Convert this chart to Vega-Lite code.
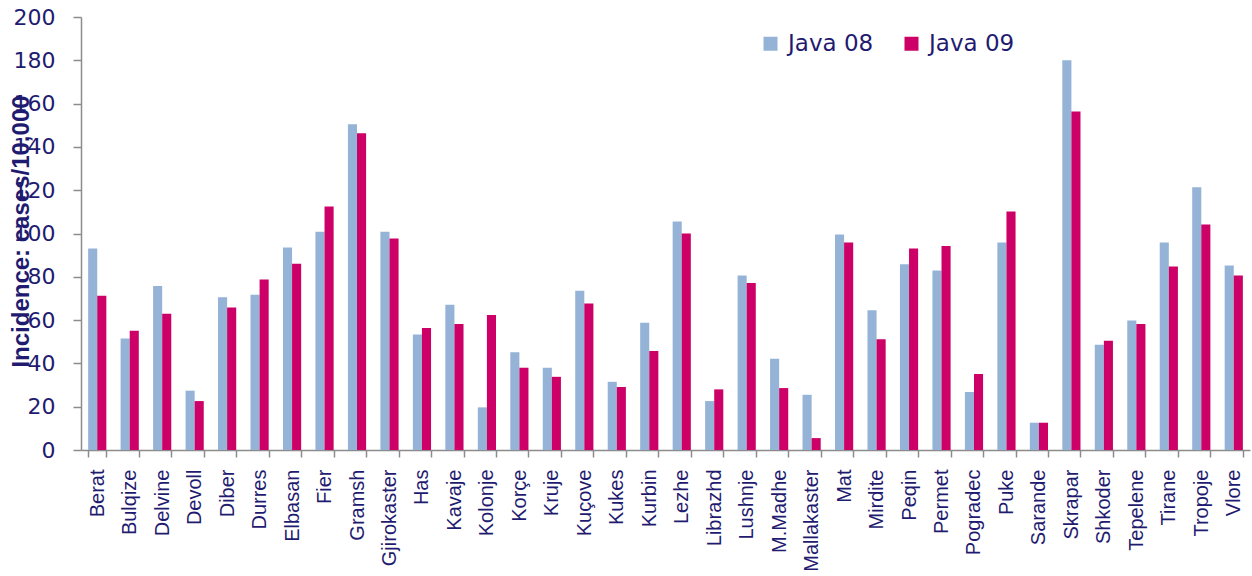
{
  "$schema": "https://vega.github.io/schema/vega-lite/v6.json",
  "width": 1169,
  "height": 433,
  "autosize": {"type": "none"},
  "padding": {"left": 81, "top": 17, "right": 2, "bottom": 126},
  "background": "white",
  "config": {
    "view": {"stroke": null},
    "font": "Liberation Sans"
  },
  "datasets": {
    "rates": [
      {"district": "Berat", "series": "Java 08", "value": 93.1},
      {"district": "Berat", "series": "Java 09", "value": 71.2},
      {"district": "Bulqize", "series": "Java 08", "value": 51.5},
      {"district": "Bulqize", "series": "Java 09", "value": 55.1},
      {"district": "Delvine", "series": "Java 08", "value": 75.8},
      {"district": "Delvine", "series": "Java 09", "value": 62.9},
      {"district": "Devoll", "series": "Java 08", "value": 27.4},
      {"district": "Devoll", "series": "Java 09", "value": 22.6},
      {"district": "Diber", "series": "Java 08", "value": 70.6},
      {"district": "Diber", "series": "Java 09", "value": 65.8},
      {"district": "Durres", "series": "Java 08", "value": 71.7},
      {"district": "Durres", "series": "Java 09", "value": 78.8},
      {"district": "Elbasan", "series": "Java 08", "value": 93.5},
      {"district": "Elbasan", "series": "Java 09", "value": 86.0},
      {"district": "Fier", "series": "Java 08", "value": 100.8},
      {"district": "Fier", "series": "Java 09", "value": 112.5},
      {"district": "Gramsh", "series": "Java 08", "value": 150.5},
      {"district": "Gramsh", "series": "Java 09", "value": 146.3},
      {"district": "Gjirokaster", "series": "Java 08", "value": 100.8},
      {"district": "Gjirokaster", "series": "Java 09", "value": 97.7},
      {"district": "Has", "series": "Java 08", "value": 53.4},
      {"district": "Has", "series": "Java 09", "value": 56.3},
      {"district": "Kavaje", "series": "Java 08", "value": 67.1},
      {"district": "Kavaje", "series": "Java 09", "value": 58.2},
      {"district": "Kolonje", "series": "Java 08", "value": 19.7},
      {"district": "Kolonje", "series": "Java 09", "value": 62.3},
      {"district": "Korçe", "series": "Java 08", "value": 45.2},
      {"district": "Korçe", "series": "Java 09", "value": 38.0},
      {"district": "Kruje", "series": "Java 08", "value": 38.0},
      {"district": "Kruje", "series": "Java 09", "value": 33.8},
      {"district": "Kuçove", "series": "Java 08", "value": 73.5},
      {"district": "Kuçove", "series": "Java 09", "value": 67.7},
      {"district": "Kukes", "series": "Java 08", "value": 31.5},
      {"district": "Kukes", "series": "Java 09", "value": 29.1},
      {"district": "Kurbin", "series": "Java 08", "value": 58.8},
      {"district": "Kurbin", "series": "Java 09", "value": 45.7},
      {"district": "Lezhe", "series": "Java 08", "value": 105.5},
      {"district": "Lezhe", "series": "Java 09", "value": 100.0},
      {"district": "Librazhd", "series": "Java 08", "value": 22.6},
      {"district": "Librazhd", "series": "Java 09", "value": 28.0},
      {"district": "Lushnje", "series": "Java 08", "value": 80.6},
      {"district": "Lushnje", "series": "Java 09", "value": 77.1},
      {"district": "M.Madhe", "series": "Java 08", "value": 42.2},
      {"district": "M.Madhe", "series": "Java 09", "value": 28.6},
      {"district": "Mallakaster", "series": "Java 08", "value": 25.5},
      {"district": "Mallakaster", "series": "Java 09", "value": 5.5},
      {"district": "Mat", "series": "Java 08", "value": 99.5},
      {"district": "Mat", "series": "Java 09", "value": 95.8},
      {"district": "Mirdite", "series": "Java 08", "value": 64.6},
      {"district": "Mirdite", "series": "Java 09", "value": 51.1},
      {"district": "Peqin", "series": "Java 08", "value": 85.8},
      {"district": "Peqin", "series": "Java 09", "value": 93.1},
      {"district": "Permet", "series": "Java 08", "value": 82.9},
      {"district": "Permet", "series": "Java 09", "value": 94.2},
      {"district": "Pogradec", "series": "Java 08", "value": 26.8},
      {"district": "Pogradec", "series": "Java 09", "value": 35.1},
      {"district": "Puke", "series": "Java 08", "value": 95.8},
      {"district": "Puke", "series": "Java 09", "value": 110.2},
      {"district": "Sarande", "series": "Java 08", "value": 12.6},
      {"district": "Sarande", "series": "Java 09", "value": 12.6},
      {"district": "Skrapar", "series": "Java 08", "value": 180.0},
      {"district": "Skrapar", "series": "Java 09", "value": 156.3},
      {"district": "Shkoder", "series": "Java 08", "value": 48.6},
      {"district": "Shkoder", "series": "Java 09", "value": 50.5},
      {"district": "Tepelene", "series": "Java 08", "value": 59.8},
      {"district": "Tepelene", "series": "Java 09", "value": 58.2},
      {"district": "Tirane", "series": "Java 08", "value": 95.8},
      {"district": "Tirane", "series": "Java 09", "value": 84.8},
      {"district": "Tropoje", "series": "Java 08", "value": 121.4},
      {"district": "Tropoje", "series": "Java 09", "value": 104.2},
      {"district": "Vlore", "series": "Java 08", "value": 85.2},
      {"district": "Vlore", "series": "Java 09", "value": 80.6}
    ]
  },
  "data": {"name": "rates"},
  "mark": {"type": "bar"},
  "encoding": {
    "x": {
      "field": "district",
      "type": "nominal",
      "sort": null,
      "scale": {"paddingInner": 0.44, "paddingOuter": 0.22},
      "axis": {
        "title": null,
        "labelAngle": 270,
        "labelAlign": "right",
        "labelBaseline": "middle",
        "labelFont": "Liberation Sans",
        "labelFontSize": 20,
        "labelColor": "#1f1b70",
        "labelPadding": 12,
        "labelOverlap": false,
        "labelLimit": 0,
        "tickBand": "extent",
        "tickSize": 7,
        "tickColor": "#8c8c8c",
        "domainColor": "#8c8c8c",
        "domainWidth": 1.5,
        "tickWidth": 1.5
      }
    },
    "xOffset": {
      "field": "series",
      "type": "nominal",
      "scale": {"paddingInner": 0, "paddingOuter": 0}
    },
    "y": {
      "field": "value",
      "type": "quantitative",
      "scale": {"domain": [0, 200], "nice": false},
      "axis": {
        "title": "Incidence: cases/10,000",
        "titleFont": "Liberation Sans",
        "titleFontSize": 24,
        "titleFontWeight": "bold",
        "titleColor": "#1f1b70",
        "titleAngle": 270,
        "titleAlign": "center",
        "titleBaseline": "alphabetic",
        "titleX": -53,
        "titleY": 214,
        "values": [0, 20, 40, 60, 80, 100, 120, 140, 160, 180, 200],
        "grid": false,
        "labelFont": "DejaVu Sans",
        "labelFontSize": 22,
        "labelColor": "#1f1b70",
        "labelPadding": 18,
        "tickSize": 8,
        "tickColor": "#8c8c8c",
        "domainColor": "#8c8c8c",
        "domainWidth": 1.5,
        "tickWidth": 1.5
      }
    },
    "color": {
      "field": "series",
      "type": "nominal",
      "scale": {"domain": ["Java 08", "Java 09"], "range": ["#95b3d7", "#cc0066"]},
      "legend": {
        "title": null,
        "orient": "none",
        "direction": "horizontal",
        "legendX": 678,
        "legendY": 15,
        "padding": 0,
        "symbolType": "square",
        "symbolSize": 196,
        "symbolStrokeWidth": 0,
        "labelFont": "DejaVu Sans",
        "labelFontSize": 23,
        "labelColor": "#1f1b70",
        "labelOffset": 6,
        "columnPadding": 26,
        "labelLimit": 0
      }
    }
  }
}
